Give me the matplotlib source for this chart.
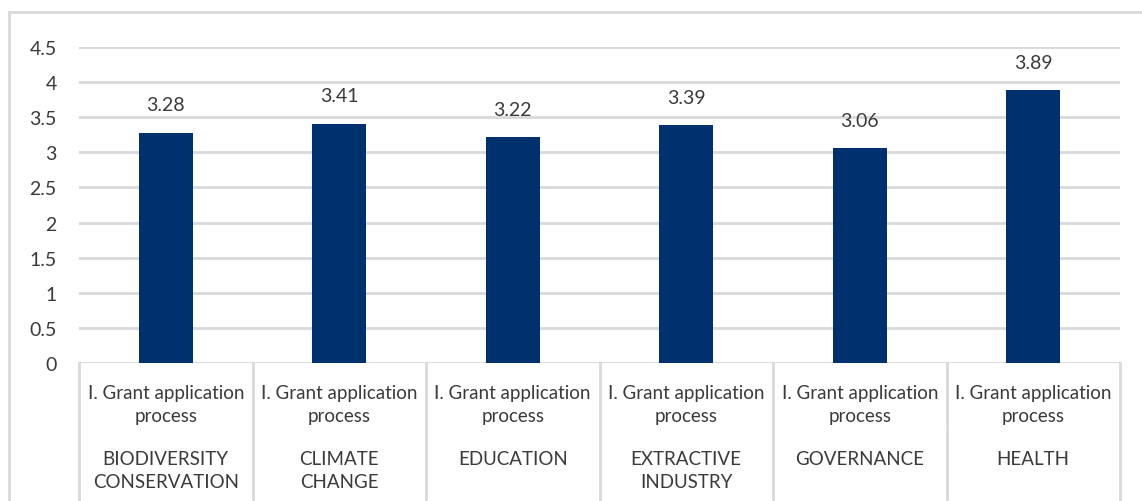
import matplotlib

matplotlib.use("Agg")
import matplotlib.pyplot as plt
from matplotlib.lines import Line2D

BAR = "#00306e"
GRID = "#d9d9d9"
TEXT = "#3a3a3a"

plt.rcParams.update({"font.family": ["Lato", "DejaVu Sans"]})

categories = ["BIODIVERSITY\nCONSERVATION", "CLIMATE\nCHANGE", "EDUCATION",
              "EXTRACTIVE\nINDUSTRY", "GOVERNANCE", "HEALTH"]
sub_label = "I. Grant application\nprocess"
scores = [3.28, 3.41, 3.22, 3.39, 3.06, 3.89]
yticks = [0, 0.5, 1, 1.5, 2, 2.5, 3, 3.5, 4, 4.5]
ytick_labels = ["0", "0.5", "1", "1.5", "2", "2.5", "3", "3.5", "4", "4.5"]

W, H = 1142, 502
fig = plt.figure(figsize=(W / 100, H / 100), dpi=100)
ax = fig.add_axes([79 / W, 1 - 364 / H, (1120 - 79) / W, (364 - 48) / H])

x = list(range(len(categories)))
ax.bar(x, scores, width=0.31, color=BAR, zorder=3)
for xi, v in zip(x, scores):
    ax.annotate(f"{v:.2f}", (xi, v), xytext=(0, 20), textcoords="offset points",
                ha="center", va="center", fontsize=14, color=TEXT)

ax.set_xlim(-0.5, len(categories) - 0.5)
ax.set_ylim(0, 4.5)
ax.set_yticks(yticks)
ax.set_yticklabels(ytick_labels, fontsize=14, color=TEXT)
ax.tick_params(axis="y", length=0, pad=16)
ax.set_xticks([])
ax.yaxis.grid(True, color=GRID, lw=2)
ax.set_axisbelow(True)
for s in ax.spines.values():
    s.set_visible(False)

# category table under the axis
def yfrac(py):
    return (364 - py) / (364 - 48)

tr = ax.get_xaxis_transform()
for b in [i - 0.5 for i in range(len(categories) + 1)]:
    ax.add_line(Line2D([b, b], [0, yfrac(429)], transform=tr, color=GRID, lw=2, clip_on=False))
    ax.add_line(Line2D([b, b], [yfrac(432), yfrac(500)], transform=tr, color=GRID, lw=2, clip_on=False))
for xi, cat in zip(x, categories):
    ax.text(xi, yfrac(405), sub_label, transform=tr, ha="center", va="center",
            fontsize=13.5, color=TEXT, linespacing=1.4)
    ax.text(xi, yfrac(451), cat, transform=tr, ha="center", va="top",
            fontsize=13.5, color=TEXT, linespacing=1.4)

# outer frame
fig.add_artist(Line2D([9 / W, 9 / W], [0, 1 - 13 / H], color=GRID, lw=2))
fig.add_artist(Line2D([9 / W, 1], [1 - 13 / H, 1 - 13 / H], color=GRID, lw=2))

fig.savefig("out.png", dpi=100)
